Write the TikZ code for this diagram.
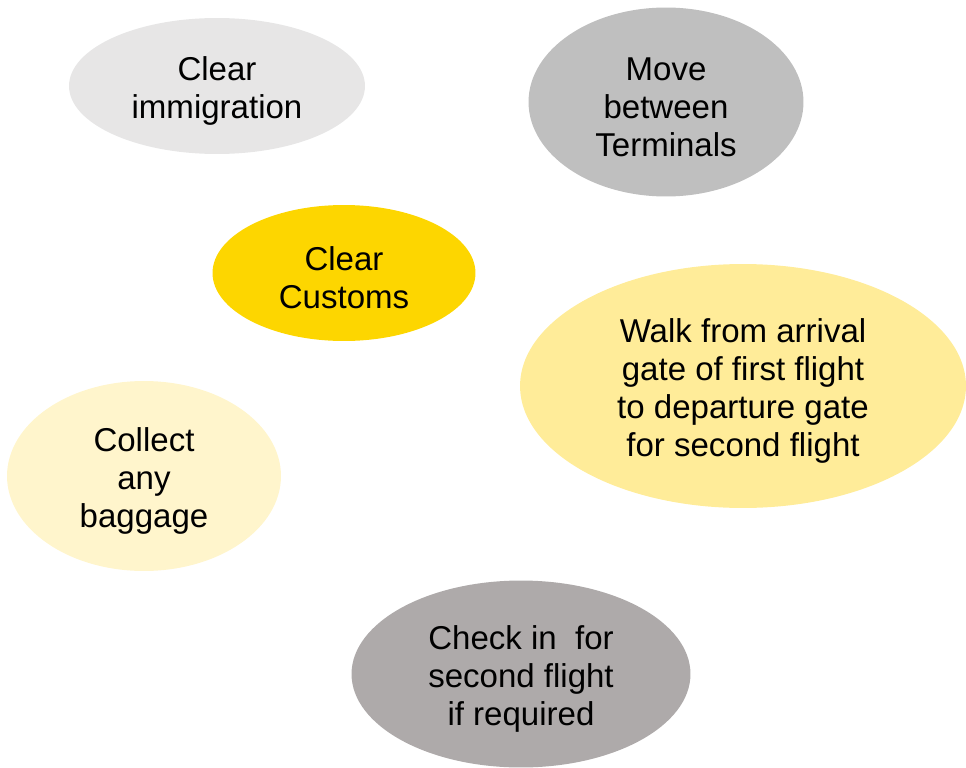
\documentclass[tikz,border=0pt]{standalone}
\usepackage{fontspec}
\setmainfont{Liberation Sans}
\usetikzlibrary{shapes.geometric, positioning}
\definecolor{lightgrey}{HTML}{E7E6E6}
\definecolor{midgrey}{HTML}{BFBFBF}
\definecolor{darkgrey}{HTML}{AEAAAA}
\definecolor{gold}{HTML}{FDD600}
\definecolor{paleyellow}{HTML}{FFEC99}
\definecolor{creamyellow}{HTML}{FFF5CC}
\newcommand{\topstrut}{\rule{0pt}{0.68cm}}

\begin{document}
\begin{tikzpicture}[x=0.02cm, y=-0.02cm]
    \tikzset{step box/.style={ellipse, draw=none, inner sep=0pt, align=center,
        font=\fontsize{18.8}{21.6}\selectfont}}
    \useasboundingbox (0,0) rectangle (966,767);
    \node[step box, fill=lightgrey, minimum width=5.92cm, minimum height=2.72cm] at (217, 86) (immig) {\topstrut Clear\\immigration};
    \node[step box, fill=midgrey, minimum width=5.5cm, minimum height=3.78cm] at (666, 102) (move) {\topstrut Move\\between\\Terminals};
    \node[step box, fill=gold, minimum width=5.26cm, minimum height=2.72cm] at (344, 273) (customs) {\topstrut Clear\\Customs};
    \node[step box, fill=paleyellow, minimum width=8.92cm, minimum height=4.88cm] at (743, 386) (walk) {\topstrut Walk from arrival\\gate of first flight\\to departure gate\\for second flight};
    \node[step box, fill=creamyellow, minimum width=5.48cm, minimum height=3.8cm] at (144, 476) (collect) {\topstrut Collect\\any\\baggage};
    \node[step box, fill=darkgrey, minimum width=6.78cm, minimum height=3.74cm] at (521, 674) (checkin) {\topstrut Check in\ \ for\\second flight\\if required};
\end{tikzpicture}
\end{document}
